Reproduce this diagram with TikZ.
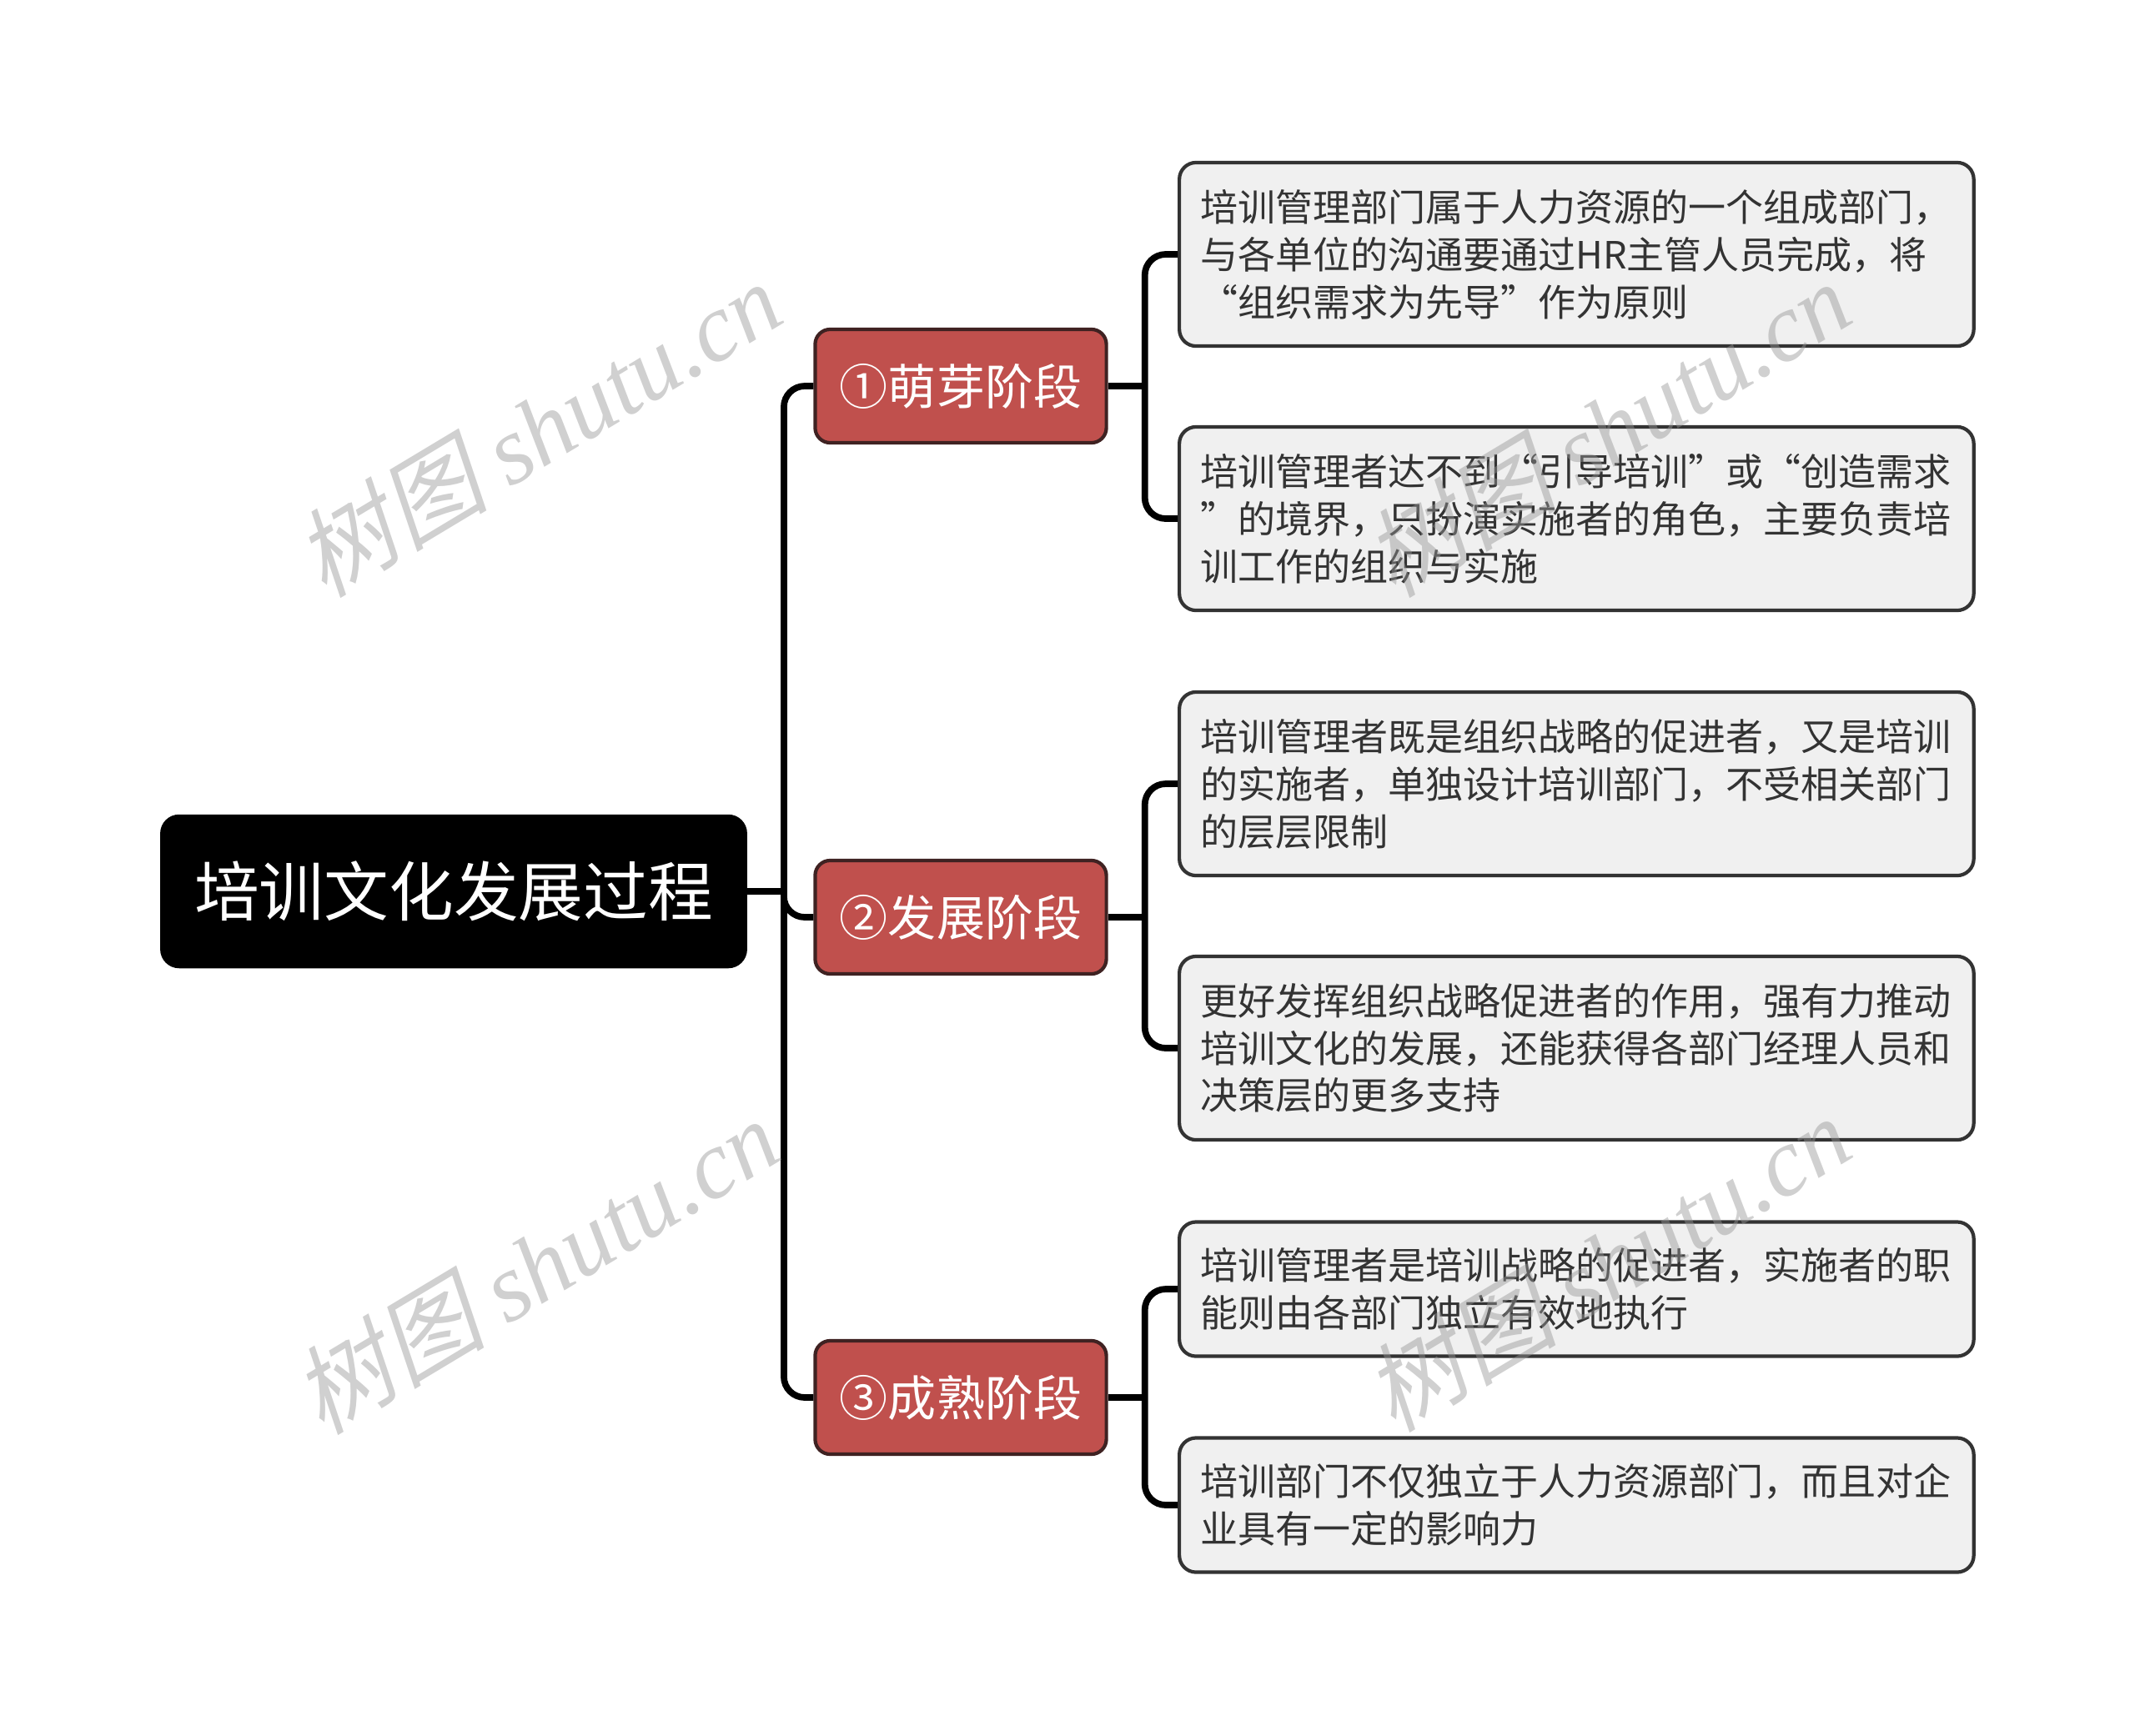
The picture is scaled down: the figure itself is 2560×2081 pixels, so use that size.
\documentclass[tikz,border=0pt]{standalone}
\usepackage{fontspec}
\setmainfont{Noto Sans CJK SC}
\newfontfamily\wmfont{Liberation Serif}
\newfontfamily\wmcjk[FakeSlant=0.22]{Noto Sans CJK SC}

\definecolor{stagered}{HTML}{C0504D}
\definecolor{stageline}{HTML}{3F2222}
\definecolor{notefill}{HTML}{F0F0F0}
\definecolor{noteline}{HTML}{333333}
\definecolor{notetext}{HTML}{333333}
\definecolor{wmgray}{HTML}{969696}

\begin{document}
\begin{tikzpicture}[x=0.01cm, y=-0.01cm, line join=round,
	rootbox/.style={fill=black, draw=black, rounded corners=0.22cm, text=white,
		minimum width=7.02cm, minimum height=1.83cm, font=\fontsize{22.1}{26}\selectfont},
	stagebox/.style={fill=stagered, draw=stageline, line width=1.2pt, rounded corners=0.18cm,
		text=white, minimum width=3.49cm, minimum height=1.36cm, font=\fontsize{16.5}{20}\selectfont},
	notebox/.style={fill=notefill, draw=noteline, line width=1.2pt, rounded corners=0.2cm,
		text=notetext, anchor=west, text width=9.02cm, inner xsep=0.25cm, align=left,
		font=\fontsize{12.8}{16.2}\selectfont},
	link/.style={line width=2.2pt, rounded corners=0.25cm},
	watermark/.style={text=wmgray, opacity=0.45, rotate=31, font=\fontsize{33}{40}\selectfont}]
	
	% ==================== 画布边界 ====================
	\useasboundingbox (0,0) rectangle (2560,2081);
	
	% ==================== 第一层：中心主题 ====================
	\node[rootbox] (root) at (544,1069) {培训文化发展过程};
	
	% ==================== 第二层：三个阶段 ====================
	\node[stagebox] (stage1) at (1152,463) {①萌芽阶段};
	\node[stagebox] (stage2) at (1152,1100) {②发展阶段};
	\node[stagebox] (stage3) at (1152,1676) {③成熟阶段};
	
	% ==================== 第三层：阶段说明 ====================
	% 1. 萌芽阶段
	\node[notebox, minimum height=2.2cm] (note1) at (1412,305)
		{培训管理部门属于人力资源的一个组成部门，\\与各单位的沟通要通过HR主管人员完成，将\\“组织需求为先导”作为原则};
	\node[notebox, minimum height=2.2cm] (note2) at (1412,622)
		{培训管理者达不到“引导培训”或“创造需求\\”的境界，只扮演实施者的角色，主要负责培\\训工作的组织与实施};
	% 2. 发展阶段
	\node[notebox, minimum height=2.2cm] (note3) at (1412,940)
		{培训管理者既是组织战略的促进者，又是培训\\的实施者，单独设计培训部门，不受相关部门\\的层层限制};
	\node[notebox, minimum height=2.2cm] (note4) at (1412,1257)
		{更好发挥组织战略促进者的作用，强有力推动\\培训文化的发展，还能获得各部门经理人员和\\决策层的更多支持};
	% 3. 成熟阶段
	\node[notebox, minimum height=1.61cm] (note5) at (1412,1546)
		{培训管理者是培训战略的促进者，实施者的职\\能则由各部门独立有效地执行};
	\node[notebox, minimum height=1.61cm] (note6) at (1412,1805)
		{培训部门不仅独立于人力资源部门，而且对企\\业具有一定的影响力};
	
	% ==================== 连接线 ====================
	% 1. 主干
	\draw[link] (root.east) -- ++(44,0) coordinate (trunk);
	\draw[link] (stage1.west) -- (stage1.west -| trunk) |- (stage3.west);
	\draw[link] (trunk) |- (stage2.west);
	
	% 2. 分支
	\foreach \s/\a/\b in {stage1/note1/note2, stage2/note3/note4, stage3/note5/note6} {
		\draw[link] (\s.east) -- ++(44,0) coordinate (fork);
		\draw[link] (\a.west) -- (\a.west -| fork) |- (\b.west);
	}
	
	% ==================== 水印 ====================
	\node[watermark] (wm1) at (645,514) {{\wmcjk 树图} {\wmfont\itshape shutu.cn}};
	\node[watermark] (wm2) at (642,1518) {{\wmcjk 树图} {\wmfont\itshape shutu.cn}};
	\node[watermark] (wm3) at (1927,514) {{\wmcjk 树图} {\wmfont\itshape shutu.cn}};
	\node[watermark] (wm4) at (1927,1515) {{\wmcjk 树图} {\wmfont\itshape shutu.cn}};
	
\end{tikzpicture}
\end{document}
